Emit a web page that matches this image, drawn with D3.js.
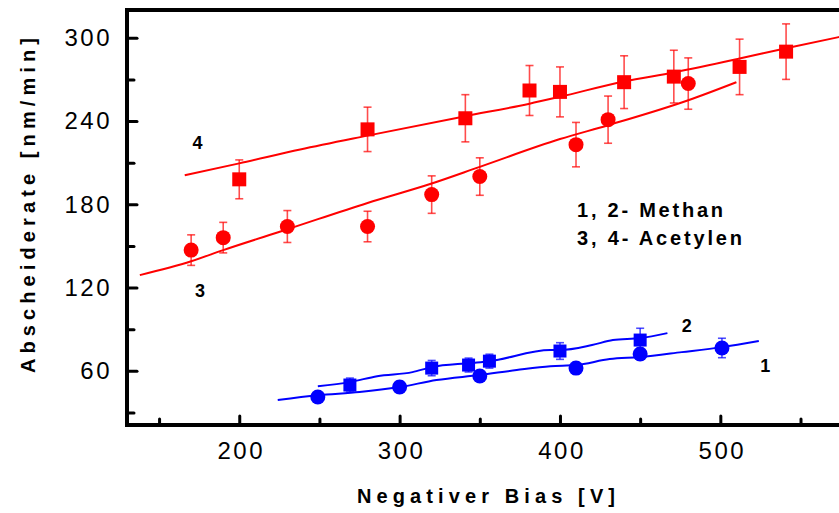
<!doctype html>
<html lang="de">
<head>
<meta charset="utf-8">
<title>Abscheiderate vs. Negativer Bias</title>
<script src="https://cdn.jsdelivr.net/npm/d3@7"></script>
<style>
  body { margin: 0; background: #fff; }
  svg { font-family: "Liberation Sans", Arial, sans-serif; }
</style>
</head>
<body>
<svg id="chart"></svg>
<script>
// --- data ---
// 4: Acetylen (squares), 3: Acetylen (circles), 2: Methan (squares), 1: Methan (circles)
var acetSqX   = [200, 280, 341, 381, 400, 440, 471, 512, 541];
var acetSqY   = [198, 234, 242, 262, 261, 268, 272, 279, 290];
var acetSqErr = [14, 16, 17, 18, 18, 19, 19, 20, 20];

var acetCiX   = [170, 190, 230, 280, 320, 350, 410, 430, 480];
var acetCiY   = [147, 156, 164, 164, 187, 200, 223, 241, 267];
var acetCiErr = [11, 11, 11.5, 11, 13.5, 13.5, 16, 17, 18.5];

var methSqX   = [269, 320, 343, 356, 400, 450];
var methSqY   = [49.8, 62, 64.2, 67, 74.3, 82.2];
var methSqErr = [5, 5.5, 5, 5, 6, 8.5];

var methCiX   = [249, 300, 350, 410, 450, 501];
var methCiY   = [41.2, 48.4, 56.3, 62, 72.2, 76.5];
var methCiErr = [3, 4, 3, 4, 4, 7];

// fit curves
var fit4X = [166, 200, 238, 280, 341, 381, 400, 440, 471, 512, 541, 574];
var fit4Y = [201, 209.5, 219.5, 229.5, 243.5, 252.5, 257.5, 268.5, 275, 285, 292.5, 300.5];
var fit3X = [138, 170, 190, 230, 280, 320, 350, 400, 430, 480, 510];
var fit3Y = [129, 139, 147, 162, 181, 195, 207, 227, 237, 255, 268];
var fit2X = [249, 269, 286, 308, 320, 344, 356, 394, 400, 420, 433, 450, 467];
var fit2Y = [49, 51.9, 56.2, 59.1, 62.7, 65.6, 67, 75, 75, 78.6, 82.2, 83.6, 87.2];
var fit1X = [224, 249, 275, 300, 323, 350, 373, 394, 410, 431, 450, 476, 501, 524];
var fit1Y = [39, 42.5, 44.7, 48.3, 53.4, 57, 60.6, 63.4, 64.2, 68.5, 70, 73.5, 77.1, 81.5];

var xTicks = [200, 300, 400, 500];
var xMinor = [150, 250, 350, 450, 550];
var yTicks = [60, 120, 180, 240, 300];
var yMinor = [30, 90, 150, 210, 270];

var curveLabels = [
  {t: "4", x: 174, y: 220},
  {t: "3", x: 175.5, y: 113},
  {t: "2", x: 479, y: 88},
  {t: "1", x: 528, y: 59}
];

var W = 839, H = 513;
var mLeft = 127, mRight = 839, mTop = 10, mBottom = 425;

var svg = d3.select("#chart").attr("width", W).attr("height", H);

var x = d3.scaleLinear().domain([130, 574]).range([mLeft, mRight]);
var y = d3.scaleLinear().domain([21, 320]).range([mBottom, mTop]);

svg.append("clipPath").attr("id", "clip")
  .append("rect").attr("x", mLeft).attr("y", mTop)
  .attr("width", mRight - mLeft).attr("height", mBottom - mTop);

var plot = svg.append("g").attr("clip-path", "url(#clip)");

function zip(xs, ys, es) {
  return xs.map(function(v, i) { return {x: v, y: ys[i], e: es ? es[i] : 0}; });
}

var line = d3.line()
  .x(function(d) { return x(d.x); })
  .y(function(d) { return y(d.y); })
  .curve(d3.curveMonotoneX);

var red = "#ff0000", blue = "#0000ff";

// fit lines
[[fit4X, fit4Y, red], [fit3X, fit3Y, red], [fit2X, fit2Y, blue], [fit1X, fit1Y, blue]]
  .forEach(function(s) {
    plot.append("path")
      .datum(zip(s[0], s[1]))
      .attr("d", line)
      .attr("fill", "none")
      .attr("stroke", s[2])
      .attr("stroke-width", 2);
  });

// error bars
function errorBars(data, col) {
  var g = plot.append("g")
    .attr("stroke", col)
    .attr("stroke-opacity", 0.7)
    .attr("stroke-width", 1.6);
  data.forEach(function(d) {
    var cx = x(d.x), y1 = y(d.y + d.e), y2 = y(d.y - d.e);
    g.append("line").attr("x1", cx).attr("x2", cx).attr("y1", y1).attr("y2", y2);
    g.append("line").attr("x1", cx - 4).attr("x2", cx + 4).attr("y1", y1).attr("y2", y1);
    g.append("line").attr("x1", cx - 4).attr("x2", cx + 4).attr("y1", y2).attr("y2", y2);
  });
}

var sq4 = zip(acetSqX, acetSqY, acetSqErr);
var ci3 = zip(acetCiX, acetCiY, acetCiErr);
var sq2 = zip(methSqX, methSqY, methSqErr);
var ci1 = zip(methCiX, methCiY, methCiErr);

errorBars(sq4, red);
errorBars(ci3, red);
errorBars(sq2, blue);
errorBars(ci1, blue);

function squares(data, col, s) {
  plot.append("g").selectAll("rect").data(data).join("rect")
    .attr("x", function(d) { return x(d.x) - s / 2; })
    .attr("y", function(d) { return y(d.y) - s / 2; })
    .attr("width", s).attr("height", s)
    .attr("fill", col);
}
function circles(data, col, r) {
  plot.append("g").selectAll("circle").data(data).join("circle")
    .attr("cx", function(d) { return x(d.x); })
    .attr("cy", function(d) { return y(d.y); })
    .attr("r", r)
    .attr("fill", col);
}
squares(sq4, red, 14);
circles(ci3, red, 7.5);
squares(sq2, blue, 13);
circles(ci1, blue, 7.5);

// axes
var yAxis = svg.append("g")
  .attr("transform", "translate(" + mLeft + ",0)")
  .call(d3.axisLeft(y).tickValues(yTicks).tickSize(-10).tickPadding(15));
svg.append("g")
  .attr("transform", "translate(" + mLeft + ",0)")
  .call(d3.axisLeft(y).tickValues(yMinor).tickSize(-7).tickFormat(""));

var xAxis = svg.append("g")
  .attr("transform", "translate(0," + mBottom + ")")
  .call(d3.axisBottom(x).tickValues(xTicks).tickSize(-9).tickPadding(17));
svg.append("g")
  .attr("transform", "translate(0," + mBottom + ")")
  .call(d3.axisBottom(x).tickValues(xMinor).tickSize(-6).tickFormat(""));

svg.selectAll(".domain").remove();
svg.selectAll(".tick line")
  .attr("stroke", "#000")
  .attr("stroke-width", 3)
  .attr("stroke-linecap", "round");
svg.selectAll(".tick text")
  .attr("fill", "#000")
  .style("font-family", "'Liberation Sans', Arial, sans-serif")
  .style("font-size", "24px")
  .style("letter-spacing", "2.5px");
xAxis.selectAll(".tick text").attr("dx", "1.5px");

// frame lines
svg.append("line").attr("x1", mLeft).attr("x2", mLeft).attr("y1", mTop - 2).attr("y2", mBottom + 2)
  .attr("stroke", "#000").attr("stroke-width", 4);
svg.append("line").attr("x1", mLeft - 2).attr("x2", mRight).attr("y1", mBottom).attr("y2", mBottom)
  .attr("stroke", "#000").attr("stroke-width", 4);
svg.append("line").attr("x1", mLeft - 2).attr("x2", mRight).attr("y1", mTop).attr("y2", mTop)
  .attr("stroke", "#000").attr("stroke-width", 4);

// curve numbers
svg.append("g").selectAll("text").data(curveLabels).join("text")
  .attr("x", function(d) { return x(d.x); })
  .attr("y", function(d) { return y(d.y); })
  .attr("text-anchor", "middle")
  .style("font-size", "18px")
  .style("font-weight", "bold")
  .text(function(d) { return d.t; });

// legend text
svg.append("text").attr("x", 577).attr("y", 217)
  .attr("textLength", 146).attr("lengthAdjust", "spacing")
  .style("font-size", "20px").style("font-weight", "bold")
  .text("1, 2- Methan");
svg.append("text").attr("x", 577).attr("y", 245)
  .attr("textLength", 165).attr("lengthAdjust", "spacing")
  .style("font-size", "20px").style("font-weight", "bold")
  .text("3, 4- Acetylen");

// axis titles
svg.append("text").attr("x", 357).attr("y", 503)
  .attr("textLength", 258).attr("lengthAdjust", "spacing")
  .style("font-size", "20px").style("font-weight", "bold")
  .text("Negativer Bias [V]");

svg.append("text")
  .attr("transform", "translate(35,373) rotate(-90)")
  .attr("textLength", 335).attr("lengthAdjust", "spacing")
  .style("font-size", "20px").style("font-weight", "bold")
  .text("Abscheiderate [nm/min]");
</script>
</body>
</html>
